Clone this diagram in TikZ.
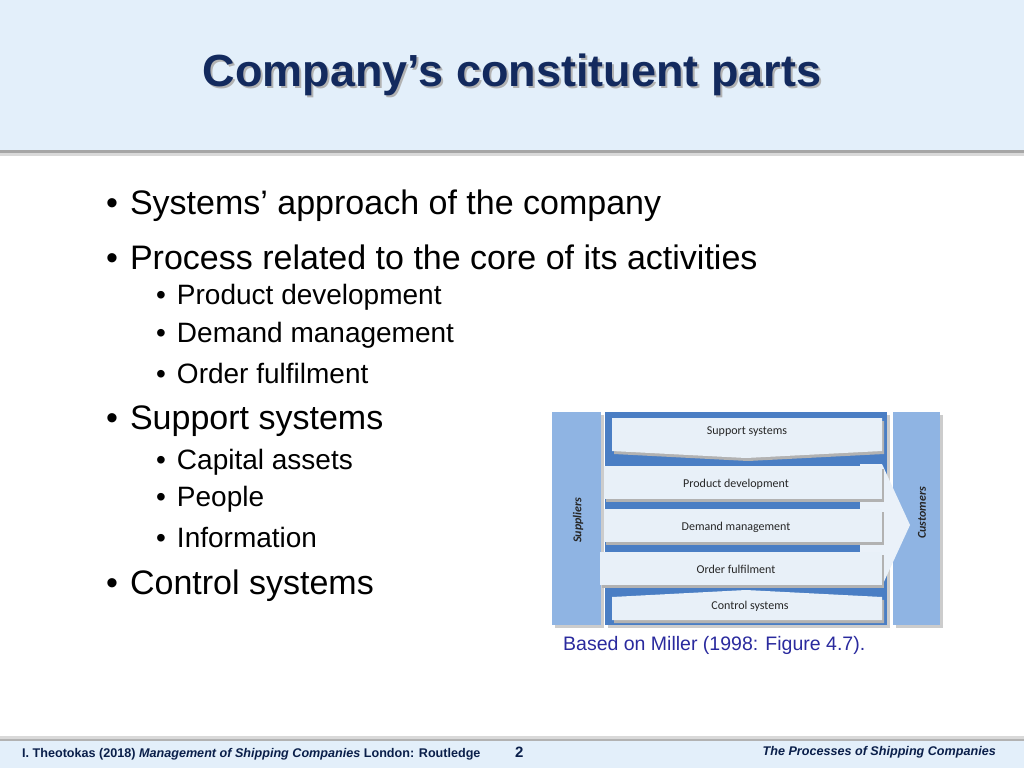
\documentclass[tikz,border=0pt]{standalone}
\usepackage{fontspec}
\setmainfont{Liberation Sans}
\newfontfamily\carl{Carlito}
\definecolor{head}{HTML}{E3EFFA}
\definecolor{navy}{HTML}{132A5E}
\definecolor{colc}{HTML}{8FB4E3}
\definecolor{midc}{HTML}{4A7EC4}
\definecolor{bandc}{HTML}{E8F0F8}
\definecolor{footc}{HTML}{0A1F4A}
\definecolor{capc}{HTML}{2A2A9E}
\begin{document}
\begin{tikzpicture}[x=1pt,y=-1pt,
  btxt/.style={anchor=west, inner sep=0, font=\fontsize{34}{38}\selectfont},
  stxt/.style={anchor=west, inner sep=0, font=\fontsize{28}{32}\selectfont},
  lbl/.style={font=\carl\fontsize{12}{14}\selectfont, text=black!85},
  foot/.style={anchor=base west, inner sep=0, font=\bfseries\fontsize{12.6}{14}\selectfont, text=footc}]
\useasboundingbox (0,0) rectangle (1024,768);
\fill[white] (0,0) rectangle (1024,768);
% header
\fill[head] (0,0) rectangle (1024,150);
\fill[gray!70] (0,150) rectangle (1024,153);
\fill[gray!30] (0,153) rectangle (1024,156);
\node[font=\bfseries\fontsize{45}{50}\selectfont, text=gray!60] (tsh) at (514,77) {Company’s constituent parts};
\node[font=\bfseries\fontsize{45}{50}\selectfont, text=navy] (title) at (512,75) {Company’s constituent parts};
% bullets
\node[btxt] (b1) at (106,206) {•\hspace{12pt}Systems’ approach of the company};
\node[btxt] (b2) at (106,257) {•\hspace{12pt}Process related to the core of its activities};
\node[stxt] (s1) at (156,297) {•\hspace{11pt}Product development};
\node[stxt] (s2) at (156,335) {•\hspace{11pt}Demand management};
\node[stxt] (s3) at (156,373) {•\hspace{11pt}Order fulfilment};
\node[btxt] (b3) at (106,421) {•\hspace{12pt}Support systems};
\node[stxt] (s4) at (156,462) {•\hspace{11pt}Capital assets};
\node[stxt] (s5) at (156,499) {•\hspace{11pt}People};
\node[stxt] (s6) at (156,537) {•\hspace{11pt}Information};
\node[btxt] (b4) at (106,586) {•\hspace{12pt}Control systems};
% diagram
\fill[gray!40] (555,415) rectangle (604,628);
\fill[colc] (552,412) rectangle (601,625);
\fill[gray!40] (896,415) rectangle (943,628);
\fill[colc] (893,412) rectangle (940,625);
\fill[gray!40] (608,415) rectangle (890,628);
\fill[midc] (605,412) rectangle (887,625);
\node[lbl, rotate=90, font=\carl\bfseries\itshape\fontsize{12}{14}\selectfont] (sup) at (578,520) {Suppliers};
\node[lbl, rotate=90, font=\carl\bfseries\itshape\fontsize{12}{14}\selectfont] (cus) at (922,513) {Customers};
% big chevron
\fill[bandc!90!white] (860,464) -- (882,464) -- (910,525) -- (882,586) -- (860,586) -- cycle;
\fill[black!30] (614,421) -- (884,421) -- (884,454) -- (748,461) -- (614,454) -- cycle;
\fill[bandc] (612,418) -- (882,418) -- (882,451) -- (746,458) -- (612,451) -- cycle;
\node[lbl] (ss) at (747,432) {Support systems};
\foreach \y/\x in {466/604, 509/604, 552/600}{
  \fill[black!30] (\x+2,\y+3) rectangle (884,\y+36);
  \fill[bandc] (\x,\y) rectangle (882,\y+33);
}
\node[lbl] (pd) at (736,484) {Product development};
\node[lbl] (dm) at (736,527) {Demand management};
\node[lbl] (of) at (736,569) {Order fulfilment};
\fill[black!30] (614,600) -- (748,593) -- (884,600) -- (884,623) -- (614,623) -- cycle;
\fill[bandc] (612,597) -- (746,590) -- (882,597) -- (882,620) -- (612,620) -- cycle;
\node[lbl] (cs) at (750,606) {Control systems};
\node[font=\fontsize{19.5}{22}\selectfont, text=capc, anchor=west, inner sep=0] (cap) at (563,645) {Based on Miller (1998: Figure 4.7).};
% footer
\fill[gray!30] (0,736) rectangle (1024,739);
\fill[gray!60] (0,739) rectangle (1024,741);
\fill[head] (0,741) rectangle (1024,768);
\node[foot] (f1) at (22,757) {I. Theotokas (2018) \textit{Management of Shipping Companies} London: Routledge};
\node[foot, font=\bfseries\fontsize{15}{16}\selectfont] (f2) at (515,757) {2};
\node[foot, anchor=base east] (f3) at (996,755) {\textit{The Processes of Shipping Companies}};
\end{tikzpicture}
\end{document}
